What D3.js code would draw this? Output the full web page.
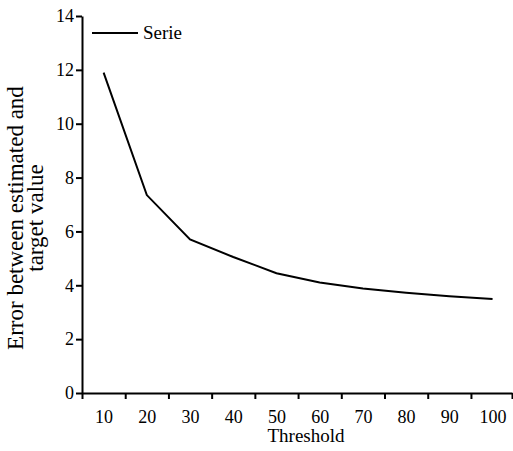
<!DOCTYPE html>
<html>
<head>
<meta charset="utf-8">
<script src="https://cdn.jsdelivr.net/npm/d3@7"></script>
<style>
  body { margin: 0; background: #fff; }
  svg { display: block; }
</style>
</head>
<body>
<svg id="chart" width="513" height="451"></svg>
<script>
// data
const thresholds = [10, 20, 30, 40, 50, 60, 70, 80, 90, 100];
const errors = [11.9, 7.35, 5.7, 5.05, 4.45, 4.1, 3.88, 3.72, 3.59, 3.49];
const yTicks = [0, 2, 4, 6, 8, 10, 12, 14];
const xTickMarks = [5, 15, 25, 35, 45, 55, 65, 75, 85, 95, 104.5];
const seriesName = 'Serie';

const FONT = '"Liberation Serif", "Times New Roman", Times, "DejaVu Serif", serif';

const svg = d3.select('#chart');

// plot area (top is a window global, so use an object)
const plot = { left: 82, right: 512, top: 16, bottom: 393 };

const x = d3.scaleLinear()
  .domain([5, 104.5])
  .range([plot.left, plot.right]);

const y = d3.scaleLinear()
  .domain([0, 14])
  .range([plot.bottom, plot.top]);

// x axis : tick marks between the labels
svg.append('g')
  .attr('transform', `translate(0,${plot.bottom})`)
  .call(d3.axisBottom(x).tickValues(xTickMarks).tickSize(6).tickSizeOuter(0).tickFormat(''))
  .call(g => g.select('.domain').attr('stroke-width', 2))
  .call(g => g.selectAll('.tick line').attr('stroke-width', 2));

// x labels, no marks
svg.append('g')
  .attr('transform', `translate(0,${plot.bottom})`)
  .attr('font-family', FONT)
  .call(d3.axisBottom(x).tickValues(thresholds).tickSize(0).tickPadding(17))
  .call(g => g.select('.domain').remove())
  .selectAll('text')
  .attr('font-size', '18px')
  .attr('font-family', FONT)
  .attr('fill', '#000');

// y axis
svg.append('g')
  .attr('transform', `translate(${plot.left},0)`)
  .call(d3.axisLeft(y).tickValues(yTicks).tickSize(6).tickSizeOuter(0).tickPadding(2).tickFormat(d3.format('d')))
  .call(g => g.select('.domain').attr('stroke-width', 2))
  .call(g => g.selectAll('.tick line').attr('stroke-width', 2))
  .selectAll('text')
  .attr('font-size', '18px')
  .attr('font-family', FONT)
  .attr('fill', '#000');

// the line
const line = d3.line()
  .x((d, i) => x(thresholds[i]))
  .y(d => y(d));

svg.append('path')
  .datum(errors)
  .attr('fill', 'none')
  .attr('stroke', '#000')
  .attr('stroke-width', 2)
  .attr('d', line);

// axis titles
svg.append('text')
  .attr('x', 306)
  .attr('y', 442)
  .attr('text-anchor', 'middle')
  .attr('font-family', FONT)
  .attr('font-size', '19px')
  .text('Threshold');

const yTitle = svg.append('text')
  .attr('transform', 'translate(23,218) rotate(-90)')
  .attr('text-anchor', 'middle')
  .attr('font-family', FONT)
  .attr('font-size', '23px');
yTitle.append('tspan').attr('x', 0).attr('dy', 0).text('Error between estimated and');
yTitle.append('tspan').attr('x', 0).attr('dy', 20).text('target value');

// legend
const legend = svg.append('g').attr('transform', 'translate(92,33)');
legend.append('line')
  .attr('x1', 0).attr('x2', 46)
  .attr('stroke', '#000')
  .attr('stroke-width', 2);
legend.append('text')
  .attr('x', 51)
  .attr('y', 6)
  .attr('font-family', FONT)
  .attr('font-size', '19px')
  .text(seriesName);
</script>
</body>
</html>
